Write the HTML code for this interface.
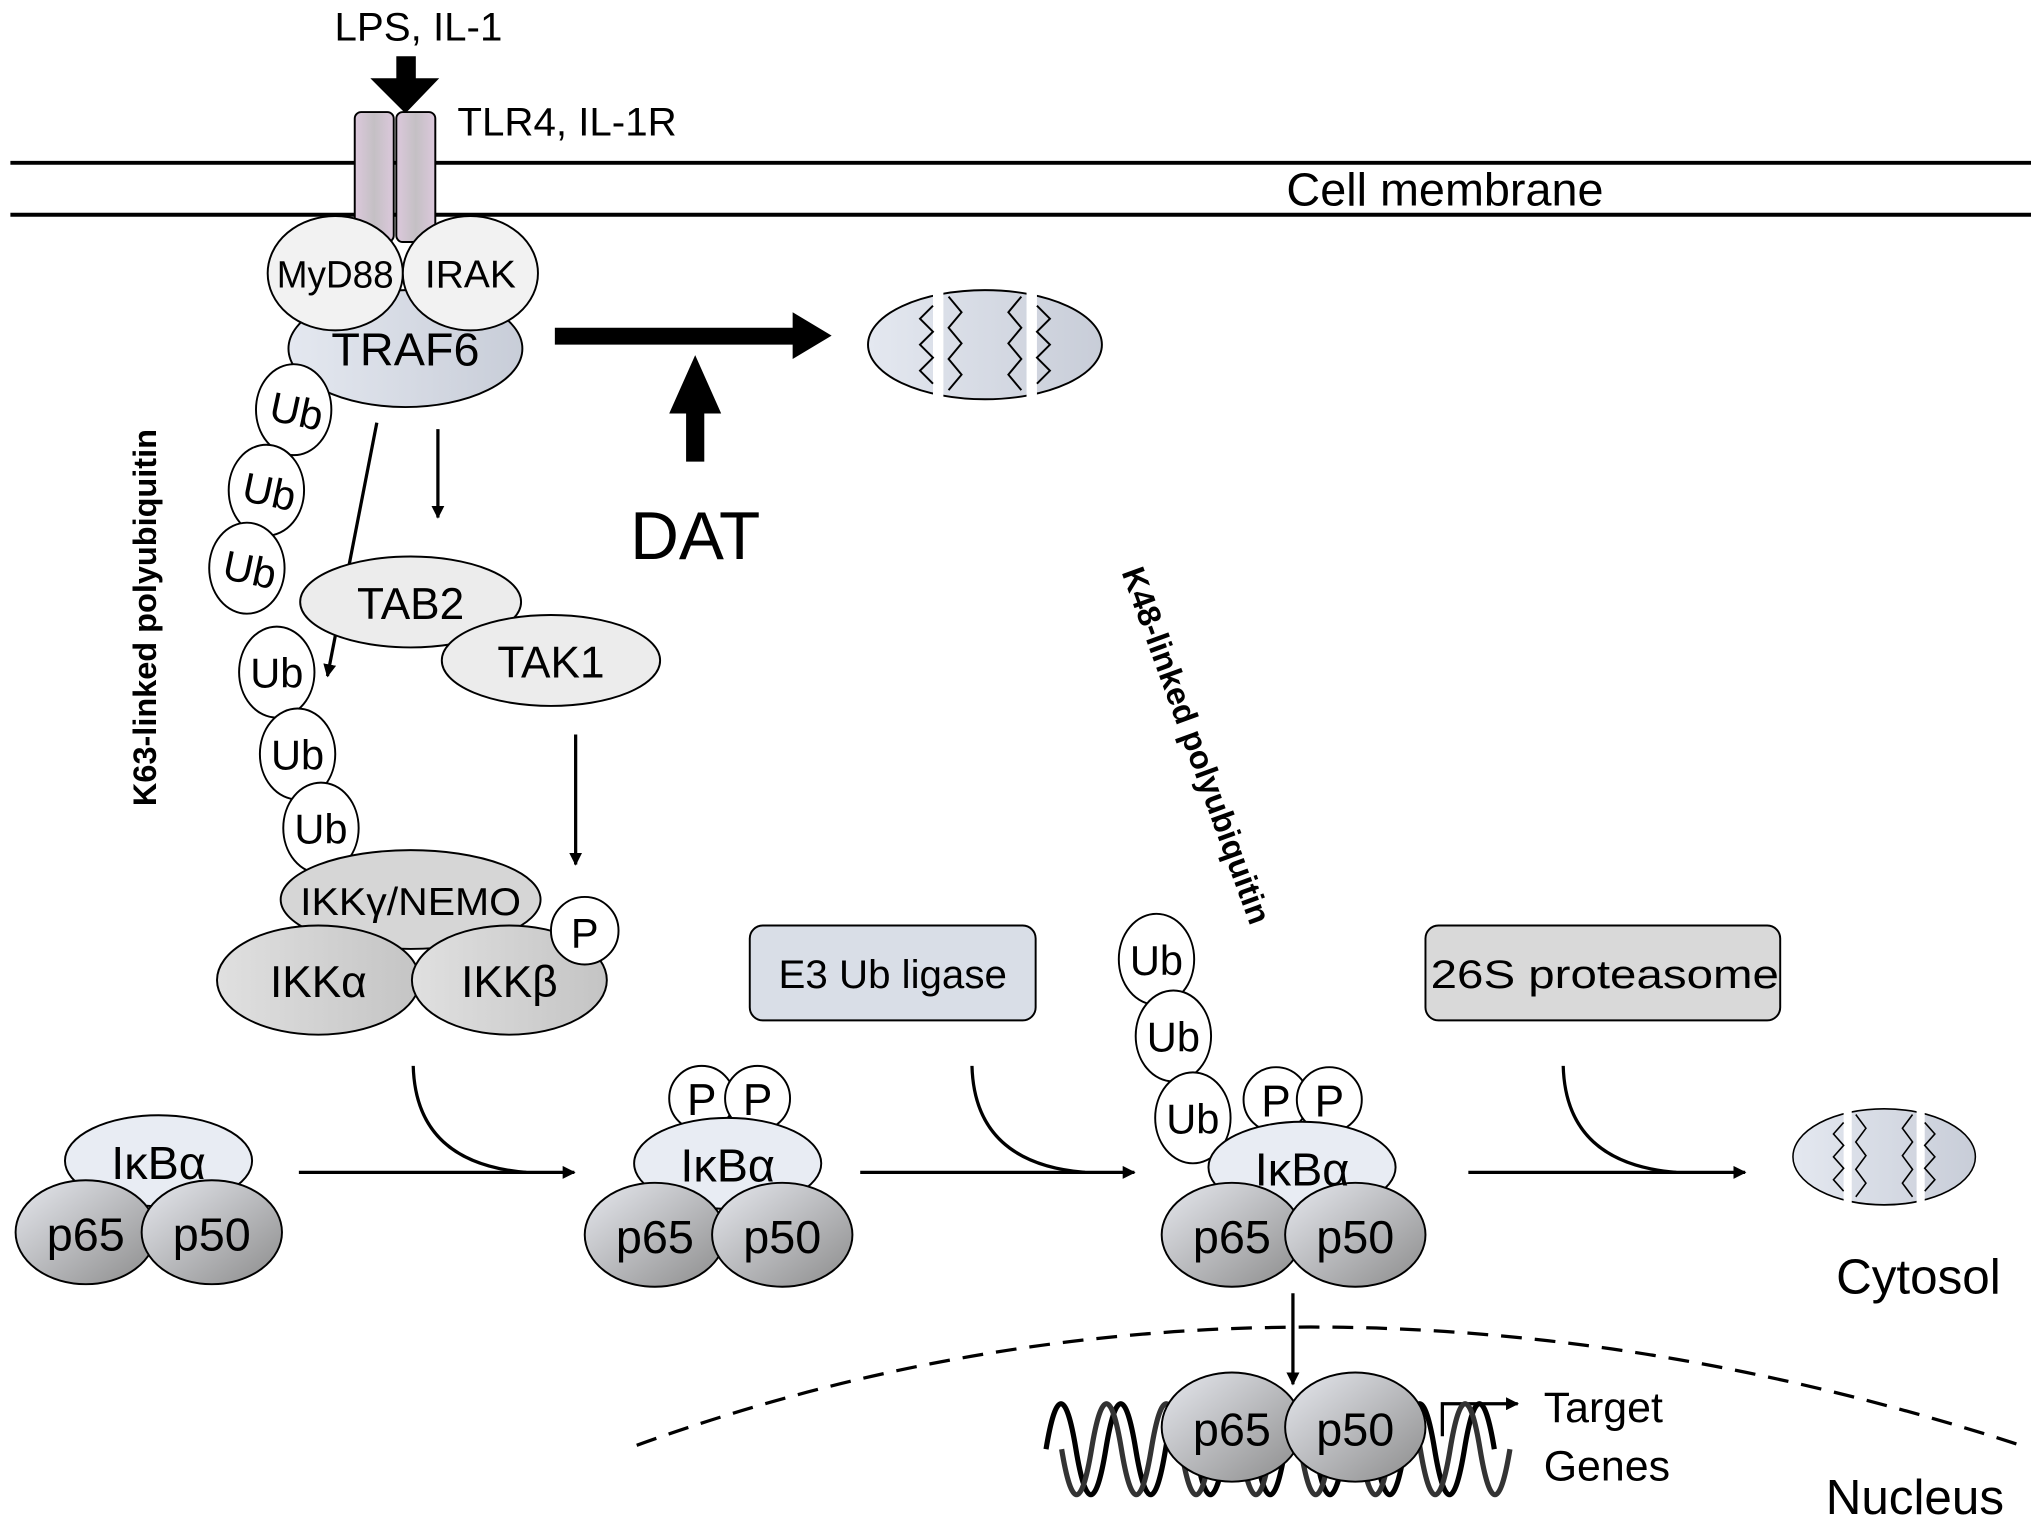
<!DOCTYPE html>
<html><head><meta charset="utf-8"><style>html,body{margin:0;padding:0;background:#fff}svg{display:block}</style></head>
<body>
<svg width="2031" height="1521" viewBox="0 0 1563 1170" xmlns="http://www.w3.org/2000/svg" font-family="Liberation Sans, sans-serif">
<defs>
<linearGradient id="rec" x1="0" x2="1"><stop offset="0" stop-color="#dcc8dc"/><stop offset="0.5" stop-color="#c4c0c4"/><stop offset="1" stop-color="#dcc8dc"/></linearGradient>
<linearGradient id="blue" x1="0" x2="1"><stop offset="0" stop-color="#e4e8f0"/><stop offset="1" stop-color="#c8cdd8"/></linearGradient>
<linearGradient id="gray" x1="0" x2="1" y1="0" y2="1"><stop offset="0" stop-color="#e6e8ee"/><stop offset="1" stop-color="#8c8c8c"/></linearGradient>
<linearGradient id="lg" x1="0" x2="1"><stop offset="0" stop-color="#e0e0e0"/><stop offset="1" stop-color="#c4c4c4"/></linearGradient>
<marker id="ah" markerWidth="10" markerHeight="10" refX="9" refY="5" orient="auto" markerUnits="userSpaceOnUse"><path d="M0,0 L10,5 L0,10 z" fill="#000"/></marker>
</defs>
<g stroke="#000" stroke-width="2" fill="none">
<line x1="8" y1="125" x2="1563" y2="125" stroke-width="3"/>
<line x1="8" y1="165" x2="1563" y2="165" stroke-width="3"/>
</g>
<text x="322" y="31" font-size="31" text-anchor="middle">LPS, IL-1</text>
<text x="352" y="104" font-size="31">TLR4, IL-1R</text>
<text x="990" y="158" font-size="36">Cell membrane</text>
<path d="M305,43 H320 V60 H338 L312,87 L285,60 H305 z" fill="#000"/>
<rect x="273" y="86" width="30" height="100" rx="5" fill="url(#rec)" stroke="#000" stroke-width="1.5"/>
<rect x="305" y="86" width="30" height="100" rx="5" fill="url(#rec)" stroke="#000" stroke-width="1.5"/>
<g stroke="#000" stroke-width="1.5">
<ellipse cx="312" cy="268" rx="90" ry="45" fill="url(#blue)"/>
<ellipse cx="258" cy="210" rx="52" ry="44" fill="#f2f2f2"/>
<ellipse cx="362" cy="210" rx="52" ry="44" fill="#f2f2f2"/>
</g>
<text x="258" y="221" font-size="29" text-anchor="middle" textLength="90" lengthAdjust="spacingAndGlyphs">MyD88</text>
<text x="362" y="221" font-size="30" text-anchor="middle">IRAK</text>
<text x="312" y="281" font-size="36" text-anchor="middle">TRAF6</text>
<g stroke="#000" stroke-width="1.5" fill="#fff">
<ellipse cx="226" cy="315" rx="29" ry="35"/>
<ellipse cx="205" cy="377" rx="29" ry="35"/>
<ellipse cx="190" cy="437" rx="29" ry="35"/>
<ellipse cx="213" cy="517" rx="29" ry="35"/>
<ellipse cx="229" cy="580" rx="29" ry="35"/>
<ellipse cx="247" cy="637" rx="29" ry="35"/>
</g>
<g font-size="32" text-anchor="middle">
<text transform="translate(226,327) rotate(12)">Ub</text>
<text transform="translate(205,389) rotate(12)">Ub</text>
<text transform="translate(190,449) rotate(12)">Ub</text>
<text x="213" y="529">Ub</text>
<text x="229" y="592">Ub</text>
<text x="247" y="649">Ub</text>
</g>
<text transform="translate(120,475) rotate(-90)" font-size="25" font-weight="bold" text-anchor="middle">K63-linked polyubiquitin</text>
<g stroke="#000" stroke-width="2.5" fill="none" marker-end="url(#ah)">
<line x1="290" y1="325" x2="252" y2="520"/>
<line x1="337" y1="330" x2="337" y2="398"/>
<line x1="443" y1="565" x2="443" y2="665"/>
</g>
<g stroke="#000" stroke-width="1.5">
<ellipse cx="316" cy="463" rx="85" ry="35" fill="#ececec"/>
<ellipse cx="424" cy="508" rx="84" ry="35" fill="#ececec"/>
<ellipse cx="316" cy="692" rx="100" ry="38" fill="#d6d6d6"/>
<ellipse cx="245" cy="754" rx="78" ry="42" fill="url(#lg)"/>
<ellipse cx="392" cy="754" rx="75" ry="42" fill="url(#lg)"/>
<circle cx="450" cy="716" r="26" fill="#fff"/>
</g>
<text x="316" y="476" font-size="34" text-anchor="middle">TAB2</text>
<text x="424" y="521" font-size="34" text-anchor="middle">TAK1</text>
<text x="316" y="704" font-size="30" text-anchor="middle" textLength="170" lengthAdjust="spacingAndGlyphs">IKKγ/NEMO</text>
<text x="245" y="767" font-size="34" text-anchor="middle">IKKα</text>
<text x="392" y="767" font-size="34" text-anchor="middle">IKKβ</text>
<text x="450" y="729" font-size="32" text-anchor="middle">P</text>
<path d="M427,252 H610 V240 L640,258 L610,276 V265 H427 z" fill="#000"/>
<path d="M528,355 V318 H515 L535,273 L555,318 H542 V355 z" fill="#000"/>
<text x="535" y="430" font-size="52" text-anchor="middle">DAT</text>
<g>
<ellipse cx="758" cy="265" rx="90" ry="42" fill="url(#blue)" stroke="#000" stroke-width="1.5"/>
<g stroke="#fff" stroke-width="8" fill="none"><line x1="722" y1="220" x2="722" y2="310"/><line x1="794" y1="220" x2="794" y2="310"/></g>
<g stroke="#000" stroke-width="1.5" fill="none">
<polyline points="718,235 708,245 718,255 708,265 718,275 708,285 718,295"/>
<polyline points="730,228 740,240 730,252 740,264 730,276 740,288 730,300"/>
<polyline points="786,228 776,240 786,252 776,264 786,276 776,288 786,300"/>
<polyline points="798,235 808,245 798,255 808,265 798,275 808,285 798,295"/>
</g>
</g>
<g transform="translate(1450,890) scale(0.78,0.88) translate(-758,-265)">
<ellipse cx="758" cy="265" rx="90" ry="42" fill="url(#blue)" stroke="#000" stroke-width="1.5"/>
<g stroke="#fff" stroke-width="8" fill="none"><line x1="722" y1="220" x2="722" y2="310"/><line x1="794" y1="220" x2="794" y2="310"/></g>
<g stroke="#000" stroke-width="1.5" fill="none">
<polyline points="718,235 708,245 718,255 708,265 718,275 708,285 718,295"/>
<polyline points="730,228 740,240 730,252 740,264 730,276 740,288 730,300"/>
<polyline points="786,228 776,240 786,252 776,264 786,276 776,288 786,300"/>
<polyline points="798,235 808,245 798,255 808,265 798,275 808,285 798,295"/>
</g>
</g>
<g stroke="#000" stroke-width="2.5" fill="none">
<line x1="230" y1="902" x2="442" y2="902" marker-end="url(#ah)"/>
<path d="M318,820 Q320,895 405,902"/>
<line x1="662" y1="902" x2="873" y2="902" marker-end="url(#ah)"/>
<path d="M748,820 Q750,895 835,902"/>
<line x1="1130" y1="902" x2="1343" y2="902" marker-end="url(#ah)"/>
<path d="M1203,820 Q1205,895 1290,902"/>
<line x1="995" y1="995" x2="995" y2="1065" marker-end="url(#ah)"/>
<path d="M490,1112 Q995,930 1555,1112" stroke-dasharray="16,10"/>
<polyline points="1110,1105 1110,1080 1168,1080" marker-end="url(#ah)"/>
</g>
<rect x="577" y="712" width="220" height="73" rx="10" fill="#d9dee7" stroke="#000" stroke-width="1.5"/>
<text x="687" y="760" font-size="31" text-anchor="middle">E3 Ub ligase</text>
<rect x="1097" y="712" width="273" height="73" rx="10" fill="#d9d9d9" stroke="#000" stroke-width="1.5"/>
<text x="1235" y="760" font-size="31" text-anchor="middle" textLength="268" lengthAdjust="spacingAndGlyphs">26S proteasome</text>
<g stroke="#000" stroke-width="1.5">
<ellipse cx="122" cy="893" rx="72" ry="35" fill="#e8ecf3"/>
<ellipse cx="66" cy="948" rx="54" ry="40" fill="url(#gray)"/>
<ellipse cx="163" cy="948" rx="54" ry="40" fill="url(#gray)"/>
</g>
<text x="122" y="907" font-size="36" text-anchor="middle">IκBα</text>
<text x="66" y="962" font-size="36" text-anchor="middle">p65</text>
<text x="163" y="962" font-size="36" text-anchor="middle">p50</text>
<g stroke="#000" stroke-width="1.5">
<circle cx="540" cy="845" r="25" fill="#fff"/>
<circle cx="583" cy="845" r="25" fill="#fff"/>
<ellipse cx="560" cy="895" rx="72" ry="35" fill="#e8ecf3"/>
<ellipse cx="504" cy="950" rx="54" ry="40" fill="url(#gray)"/>
<ellipse cx="602" cy="950" rx="54" ry="40" fill="url(#gray)"/>
</g>
<text x="540" y="858" font-size="34" text-anchor="middle">P</text>
<text x="583" y="858" font-size="34" text-anchor="middle">P</text>
<text x="560" y="909" font-size="36" text-anchor="middle">IκBα</text>
<text x="504" y="964" font-size="36" text-anchor="middle">p65</text>
<text x="602" y="964" font-size="36" text-anchor="middle">p50</text>
<g stroke="#000" stroke-width="1.5">
<ellipse cx="890" cy="738" rx="29" ry="35" fill="#fff"/>
<ellipse cx="903" cy="797" rx="29" ry="35" fill="#fff"/>
<ellipse cx="918" cy="860" rx="29" ry="35" fill="#fff"/>
<circle cx="982" cy="846" r="25" fill="#fff"/>
<circle cx="1023" cy="846" r="25" fill="#fff"/>
<ellipse cx="1002" cy="898" rx="72" ry="35" fill="#e8ecf3"/>
<ellipse cx="948" cy="950" rx="54" ry="40" fill="url(#gray)"/>
<ellipse cx="1043" cy="950" rx="54" ry="40" fill="url(#gray)"/>
</g>
<g font-size="32" text-anchor="middle">
<text x="890" y="750">Ub</text><text x="903" y="809">Ub</text><text x="918" y="872">Ub</text>
</g>
<text x="982" y="859" font-size="34" text-anchor="middle">P</text>
<text x="1023" y="859" font-size="34" text-anchor="middle">P</text>
<text x="1002" y="912" font-size="36" text-anchor="middle">IκBα</text>
<text x="948" y="964" font-size="36" text-anchor="middle">p65</text>
<text x="1043" y="964" font-size="36" text-anchor="middle">p50</text>
<text transform="translate(863,440) rotate(70)" font-size="25" font-weight="bold">K48-linked polyubiquitin</text>
<text x="1413" y="995" font-size="38">Cytosol</text>
<g stroke="#000" stroke-width="4" fill="none">
<path d="M805,1115 Q816.5,1045 828,1115 T851,1115 T874,1115 T897,1115 T920,1115 T943,1115 T966,1115 T989,1115 T1012,1115 T1035,1115 T1058,1115 T1081,1115 T1104,1115 T1127,1115 T1150,1115"/>
<path d="M817,1115 Q828.5,1185 840,1115 T863,1115 T886,1115 T909,1115 T932,1115 T955,1115 T978,1115 T1001,1115 T1024,1115 T1047,1115 T1070,1115 T1093,1115 T1116,1115 T1139,1115 T1162,1115" stroke="#333"/>
</g>
<g stroke="#000" stroke-width="1.5">
<ellipse cx="948" cy="1098" rx="54" ry="42" fill="url(#gray)"/>
<ellipse cx="1043" cy="1098" rx="54" ry="42" fill="url(#gray)"/>
</g>
<text x="948" y="1112" font-size="36" text-anchor="middle">p65</text>
<text x="1043" y="1112" font-size="36" text-anchor="middle">p50</text>
<text x="1188" y="1094" font-size="33">Target</text>
<text x="1188" y="1139" font-size="33">Genes</text>
<text x="1405" y="1165" font-size="38">Nucleus</text>
</svg>
</body></html>
